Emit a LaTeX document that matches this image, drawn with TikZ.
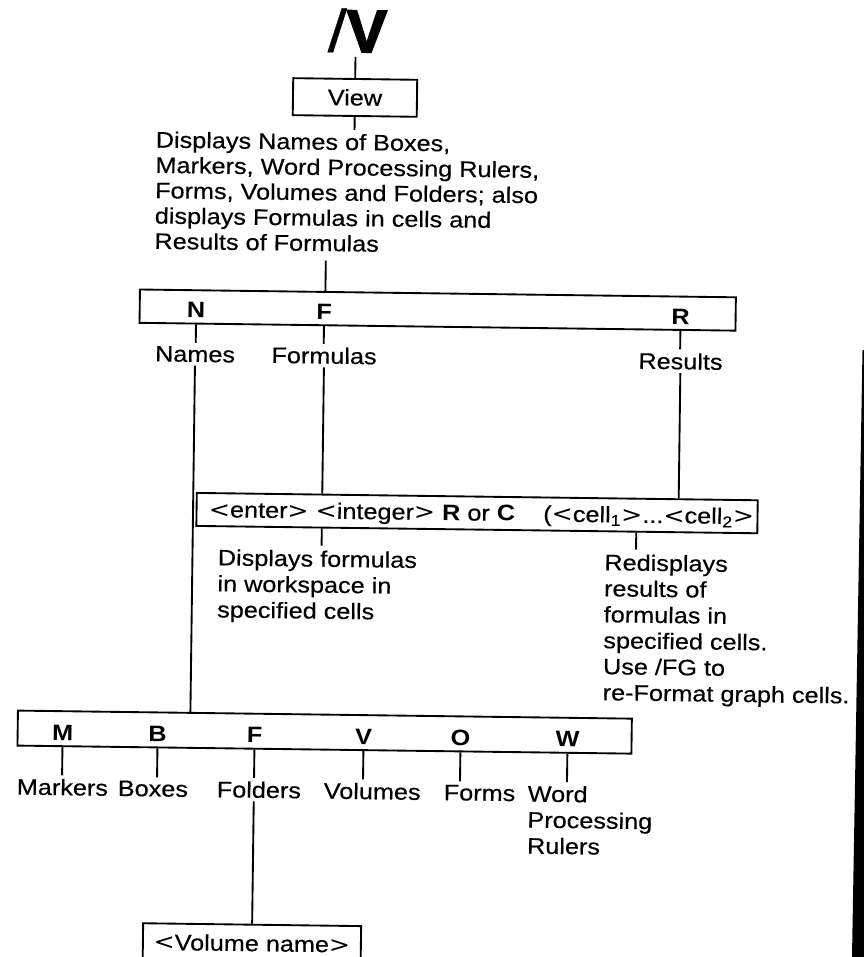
\documentclass[tikz,border=0pt]{standalone}
\usepackage{fontspec}
\setmainfont{Liberation Sans}[FakeStretch=1.13,UprightFeatures={FakeBold=0.4}]
\newfontfamily\symfont{DejaVu Sans}[FakeStretch=1.13]
\newfontfamily\heavyfont{Liberation Sans Bold}[FakeBold=3]
\newcommand{\ltsym}{{\symfont<}}
\newcommand{\gtsym}{{\symfont>}}
\newcommand{\txtsize}{\fontsize{16.75}{19}\selectfont}
\newcommand{\notesize}{\fontsize{16.75}{19.5}\selectfont}

\begin{document}
\begin{tikzpicture}[x=0.75pt,y=-0.75pt,line width=1.4pt,
  font=\txtsize,
  frame/.style={draw,inner sep=0pt},
  key/.style={font=\txtsize\bfseries,inner sep=0pt,anchor=base},
  lbl/.style={inner sep=2pt,anchor=base},
  lblw/.style={inner xsep=0pt,inner ysep=2pt,anchor=base west},
  note/.style={align=left,inner sep=0pt,anchor=north west,font=\notesize}]

\fill[white] (0,0) rectangle (864,957);
\useasboundingbox (0,0) rectangle (864,957);

\begin{scope}[rotate around={-0.75:(432,478)},transform shape]
  % command and its menu
  \node[anchor=base,inner sep=0pt,font=\fontsize{45}{45}\selectfont] (cmd) at (351.5,53) {/{\heavyfont V}};
  \coordinate (cmdfoot) at (350,58);
  \node[frame,minimum width=93pt,minimum height=27.75pt] (view) at (350,98.5) {View};
  \coordinate (viewfoot) at (350,131);
  \node[note,font=\txtsize] (desc) at (150.5,134)
    {Displays Names of Boxes,\\Markers, Word Processing Rulers,\\Forms, Volumes and Folders; also\\displays Formulas in cells and\\Results of Formulas};
  \coordinate (descfoot) at (323,262);

  % N / F / R choices
  \node[frame,minimum width=447pt,minimum height=25pt] (nfr) at (435.5,310) {};
  \node[key] (kN) at (194,321) {N};
  \node[key] (kF) at (322,321) {F};
  \node[key] (kR) at (678.5,321) {R};
  \node[lbl] (names) at (193.5,365) {Names};
  \node[lbl] (formulas) at (322.5,365) {Formulas};
  \node[lbl] (results) at (679,366) {Results};

  % range entry
  \node[frame,minimum width=420.75pt,minimum height=24.75pt] (ebox) at (477.5,512.5) {};
  \node[inner sep=0pt,anchor=base west] (etA) at (208.4,520)
    {\ltsym enter\gtsym\ \ltsym integer\gtsym\ \textbf{R} or \textbf{C}};
  \node[inner sep=0pt,anchor=base east] (etB) at (755.5,520)
    {(\ltsym cell\textsubscript{1}\gtsym...\ltsym cell\textsubscript{2}\gtsym};
  \coordinate (ef) at (322.5,547);
  \coordinate (er) at (637,547);
  \node[note] (dispf) at (218,551) {Displays formulas\\in workspace in\\specified cells};
  \node[note] (redisp) at (604.6,550.8)
    {Redisplays\\results of\\formulas in\\specified cells.\\Use /FG to\\re-Format graph cells.};

  % name categories
  \node[frame,minimum width=460.5pt,minimum height=26.25pt] (mbox) at (328,733.5) {};
  \node[key] (kM) at (66,745) {M};
  \node[key] (kB) at (161,745) {B};
  \node[key] (kFo) at (258,745) {F};
  \node[key] (kV) at (367,745) {V};
  \node[key] (kO) at (464,745) {O};
  \node[key] (kW) at (571,745) {W};
  \node[lblw] (markers) at (20,800) {Markers};
  \node[lblw] (boxes) at (121,800) {Boxes};
  \node[lblw] (folders) at (220,800) {Folders};
  \node[lblw] (volumes) at (327,800) {Volumes};
  \node[lblw] (forms) at (447,800) {Forms};
  \node[note,inner ysep=2pt] (word) at (531,780.5) {Word\\Processing\\Rulers};
  \node[frame,minimum width=163.5pt,minimum height=27.75pt] (vol) at (258,945.5) {\ltsym Volume name\gtsym};

  % connectors
  \draw (cmdfoot) -- (view.north);
  \draw (view.south) -- (viewfoot);
  \draw (descfoot) -- (descfoot |- nfr.north);
  \draw (kN |- nfr.south) -- (kN |- names.north);
  \draw (kF |- nfr.south) -- (kF |- formulas.north);
  \draw (kR |- nfr.south) -- (kR |- results.north);
  \draw (names.south) -- (names.south |- mbox.north);
  \draw (formulas.south) -- (formulas.south |- ebox.north);
  \draw (results.south) -- (results.south |- ebox.north);
  \draw (ef |- ebox.south) -- (ef);
  \draw (er |- ebox.south) -- (er);
  \draw (kM |- mbox.south) -- (kM |- markers.north);
  \draw (kB |- mbox.south) -- (kB |- boxes.north);
  \draw (kFo |- mbox.south) -- (kFo |- folders.north);
  \draw (kV |- mbox.south) -- (kV |- volumes.north);
  \draw (kO |- mbox.south) -- (kO |- forms.north);
  \draw (kW |- mbox.south) -- (kW |- word.north);
  \draw (kFo |- folders.south) -- (kFo |- vol.north);
\end{scope}

% dark page edge along the right side
\fill[black] (862.5,350) -- (864,350) -- (864,957) -- (852,957) -- cycle;
\end{tikzpicture}
\end{document}
